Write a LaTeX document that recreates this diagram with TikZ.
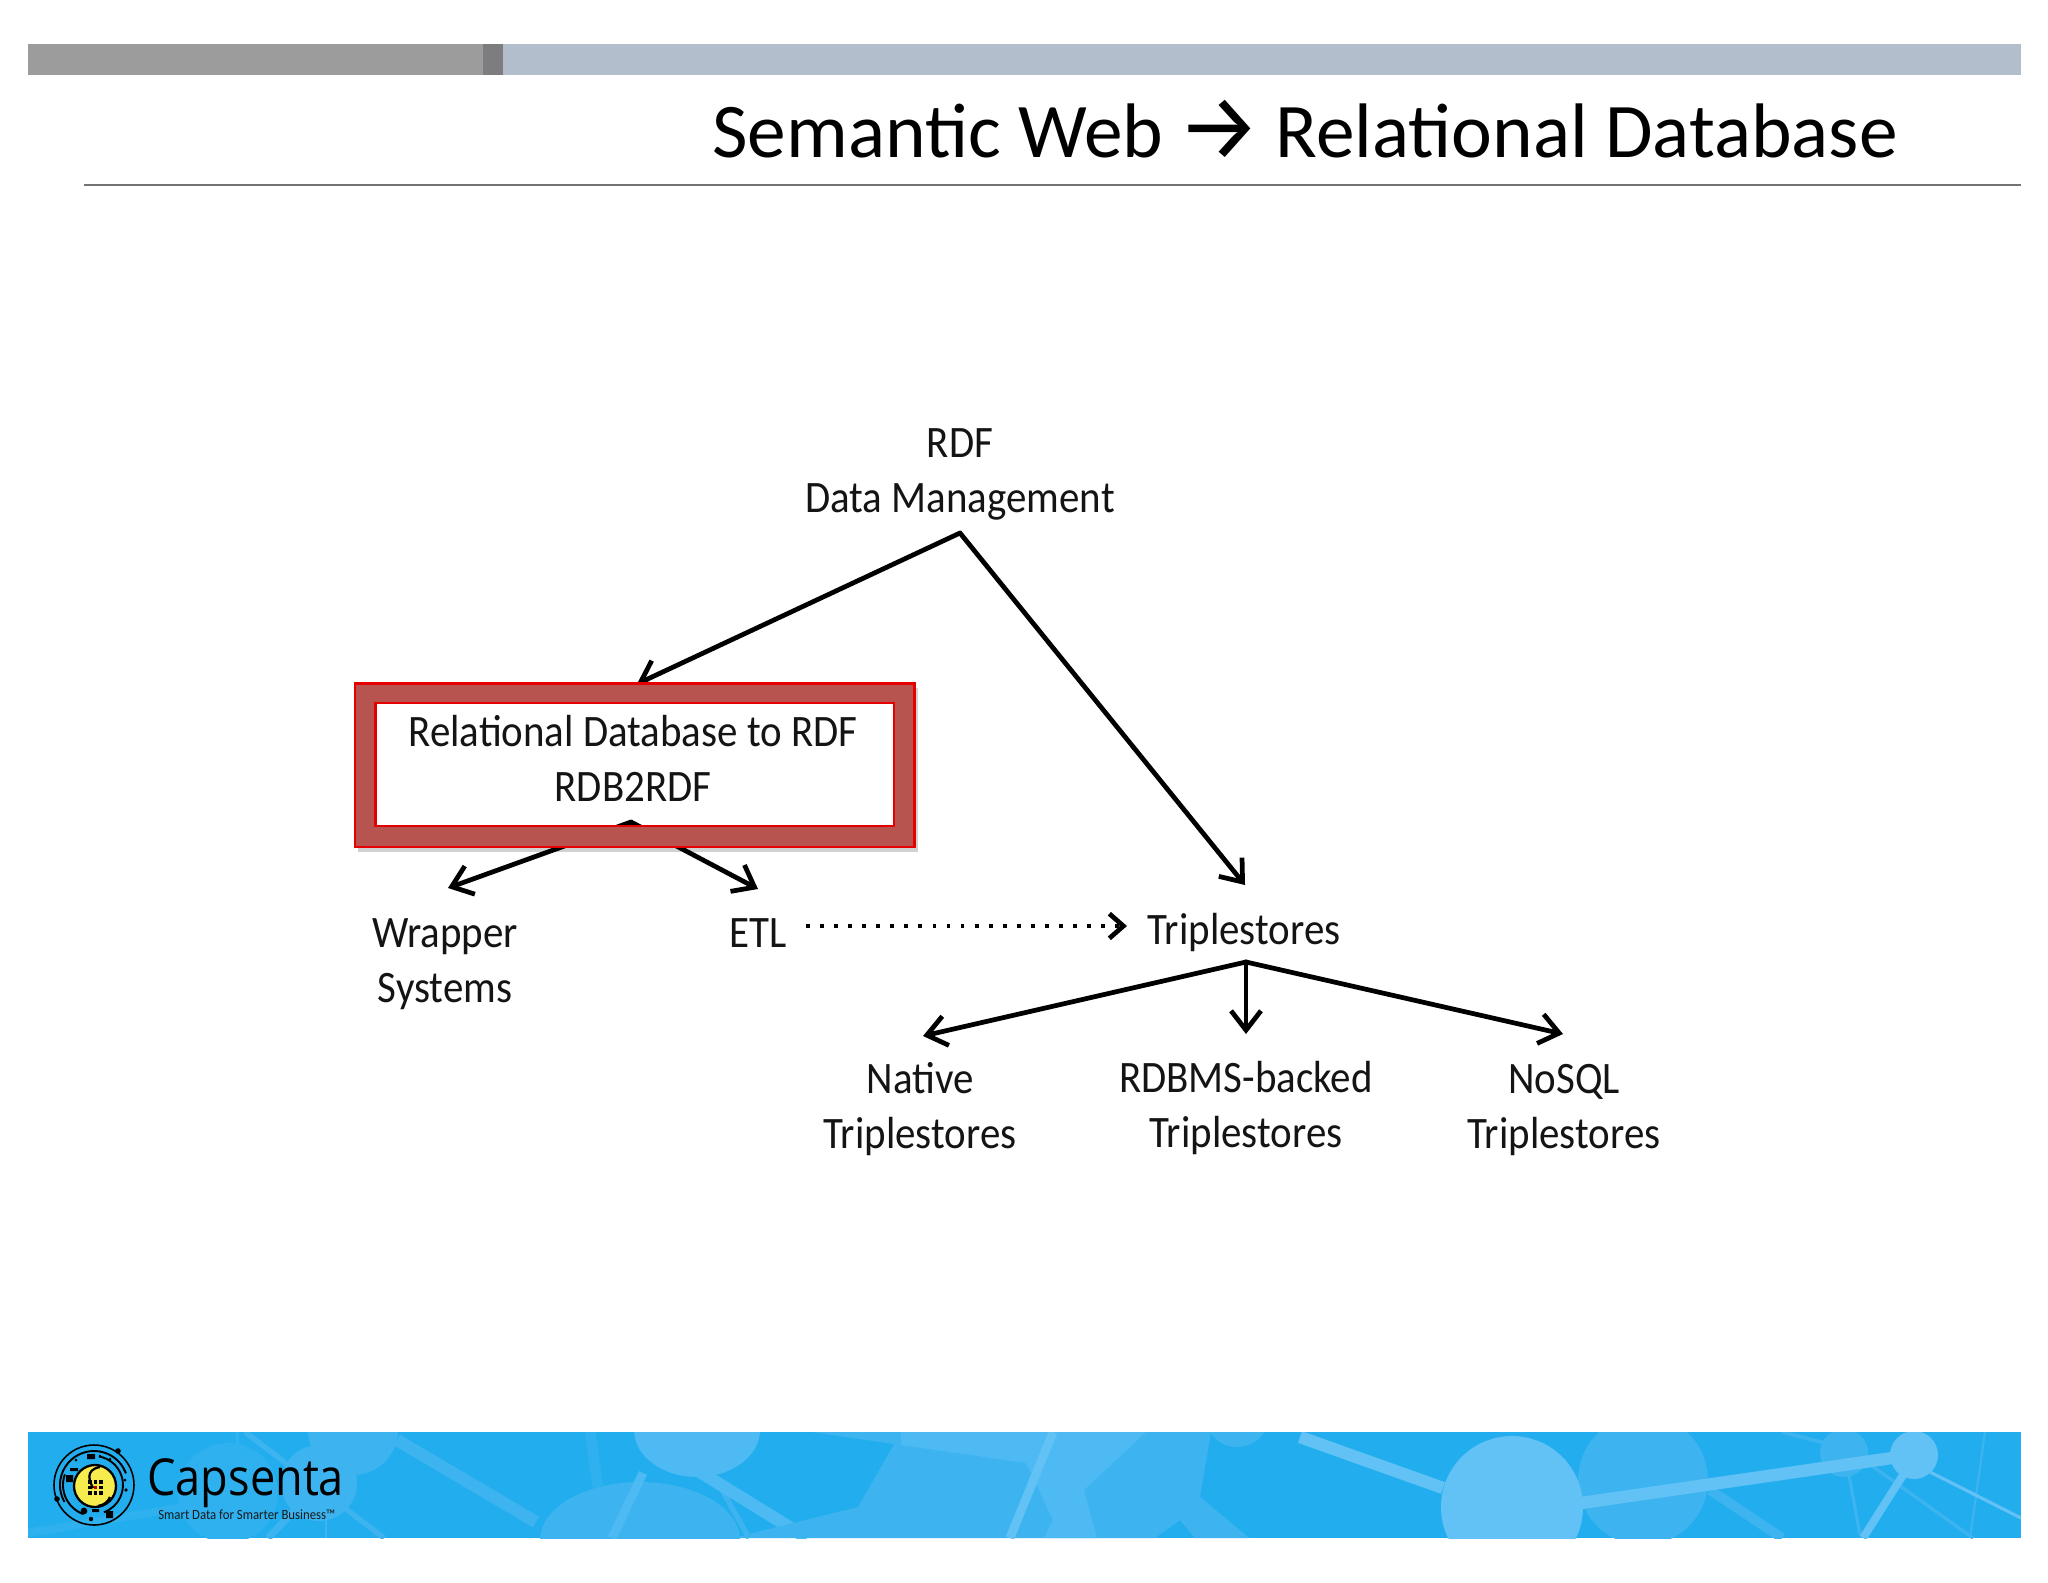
\documentclass[tikz,border=0pt]{standalone}
\usepackage{fontspec}
\setmainfont{Carlito}
\newfontfamily\diagfont[FakeStretch=0.91]{Carlito}
\newfontfamily\arrowfont{Fira Sans}
\newfontfamily\logofont[FakeStretch=0.885]{Open Sans}
\usetikzlibrary{arrows.meta,calc}
\definecolor{bandbase}{HTML}{22AEEE}
\definecolor{bandmid}{HTML}{3DB4F0}
\definecolor{bandlite}{HTML}{4DBAF3}
\definecolor{bandtop}{HTML}{62C2F5}
\definecolor{bandfaint}{HTML}{2FB1EF}
\definecolor{ringfill}{HTML}{B85450}
\tikzset{
  lab/.style={font=\diagfont\fontsize{25.6pt}{31.3pt}\selectfont, align=center, inner sep=0pt, text=black!92},
  arr/.style={line width=2.7pt, draw=black, -{Straight Barb[length=11pt,width=17pt,line width=2.7pt]}, line cap=round},
  dotarr/.style={line width=2.6pt, draw=black, dash pattern=on 2.2pt off 5.8pt, -{Straight Barb[length=8pt,width=14pt,line width=2.7pt]}},
}
\begin{document}
\begin{tikzpicture}[x=0.02cm,y=-0.02cm]
\useasboundingbox (0,0) rectangle (2048,1582);
\fill[white] (0,0) rectangle (2048,1582);
% top bar
\fill[fill=black!39] (28,44) rectangle (483,75);
\fill[fill=black!50!blue!2!gray] (483,44) rectangle (503,75);
\fill[fill={rgb,255:red,179;green,190;blue,204}] (503,44) rectangle (2021,75);
\draw[line width=1.3pt,draw=black!55] (84,185) -- (2021,185);
% title
\node[anchor=center,inner sep=0pt,font=\fontsize{44pt}{52pt}\selectfont,text=black] (title) at (1305,130)
  {Semantic Web \makebox[44pt][c]{\raisebox{-1pt}{\arrowfont\fontsize{53pt}{53pt}\selectfont→}} Relational Database};
% band
\begin{scope}
\clip (28,1432) rectangle (2021,1538);
\fill[bandbase] (28,1432) rectangle (2021,1538);
\fill[bandfaint] (228,1493) circle (50);
\fill[bandmid] (319,1483) circle (38);
\fill[bandmid] (353,1430) circle (45);
\draw[bandfaint,line width=4.5pt] (27,1533) -- (268,1493);
\draw[bandmid,line width=3pt] (245,1432) -- (384,1538);
\draw[bandfaint,line width=2pt] (237,1432) -- (241,1495);
\draw[bandmid,line width=4pt] (268,1538) -- (321,1483);
\draw[bandmid,line width=1.5pt] (326,1513) -- (326,1538);
\draw[bandmid,line width=7pt] (397,1440) -- (536,1522);
\fill[bandmid] (640,1540) ellipse (100 and 58);
\fill[bandlite] (697,1430) ellipse (63 and 47);
\draw[bandfaint,line width=6pt] (590,1432) -- (598,1487);
\draw[bandlite,line width=5pt] (643,1473) -- (612,1538);
\draw[bandmid,line width=3pt] (718,1483) -- (749,1538);
\draw[bandlite,line width=7pt] (700,1472) -- (807,1538);
\fill[bandmid] (901,1432) -- (1211,1432) -- (1200,1497) -- (1249,1538) -- (1195,1538) -- (1180,1520) -- (1155,1538) -- (733,1538) -- (858,1507) -- cycle;
\fill[bandmid] (812,1432) -- (901,1445) -- (912,1432) -- cycle;
\fill[bandlite] (901,1432) -- (1146,1432) -- (1084,1490) -- (1097,1538) -- (1044,1538) -- (1053,1520) -- (1026,1463) -- (901,1445) -- cycle;
\fill[bandmid] (1237,1415) circle (32);
\draw[bandtop,line width=5pt] (1053,1432) -- (1010,1538);
\draw[bandmid,line width=5.5pt] (1710,1490) -- (1782,1538);
\fill[bandmid] (1643,1480) circle (65);
\draw[bandmid,line width=2pt] (1782,1432) -- (1825,1443);
\fill[bandmid] (1844,1453) circle (24);
\draw[bandmid,line width=1.8pt] (1849,1475) -- (1860,1535);
\draw[bandmid,line width=1.8pt] (1868,1463) -- (1973,1538);
\draw[bandmid,line width=1.2pt] (1985,1432) -- (1970,1538);
\draw[bandtop,line width=7pt] (1300,1437) -- (1443,1488);
\draw[bandtop,line width=7pt] (1581,1503) -- (1892,1458);
\fill[bandtop] (1512,1507) circle (71);
\draw[bandtop,line width=4.5pt] (1903,1475) -- (1863,1538);
\draw[bandtop,line width=1.8pt] (1930,1472) -- (2021,1518);
\fill[bandtop] (1914,1455) circle (24);
\end{scope}
% logo
\begin{scope}[line width=0.9pt,draw=black]
\draw (94,1485) ellipse (40 and 40);
\draw[line width=1.1pt] (94,1485) ++(-20:34) arc (-20:-210:34);
\draw[line width=1.1pt] (94,1485) ++(70:29) arc (70:-80:29);
\draw[line width=1.1pt] (94,1485) ++(110:31) arc (110:200:31);
\fill[black] (118,1451) circle (2.8) (57,1499) circle (2.8) (84,1511) circle (3.4) (91,1519) circle (2.2) (126,1490) circle (1.8);
\fill[black] (106,1511) rectangle (113,1518) (66,1475) rectangle (73,1482) (87,1454) rectangle (95,1459) (92,1509) rectangle (99,1512);
\fill[black] (100,1456) circle (1.5) (110,1459) circle (1.5) (76,1460) circle (1.5) (125,1480) circle (1.5) (124,1470) circle (1.2) (70,1468) rectangle (78,1471);
\draw[fill={rgb,255:red,247;green,236;blue,78},line width=1.3pt] (95,1486) ellipse (21 and 21);
\draw[line width=1.3pt] (100,1467) .. controls (84,1470) and (90,1482) .. (93,1488);
\draw[line width=1.3pt] (110,1497) .. controls (108,1502) and (104,1505) .. (98,1506);
\foreach \i in {0,1,2}{\foreach \j in {0,1,2}{
  \fill[black] ({88+\i*5.5},{1480+\j*5.5}) rectangle +(3.5,3.5);}}
\fill[red!80!black] (93.5,1485.5) rectangle +(3.5,3.5);
\end{scope}
\node[anchor=base west,inner sep=0pt,font=\logofont\fontsize{29pt}{34pt}\selectfont,text=black] (capsenta) at (147,1495) {Capsenta};
\node[anchor=base west,inner sep=0pt,font=\diagfont\fontsize{8pt}{10pt}\selectfont,text=black!90] (tagline) at (158,1519) {Smart Data for Smarter Business™};
% diagram
\node[lab] (rdf) at (960,474) {RDF\\Data Management};
\coordinate (rdfapex) at (960,533);
\coordinate (rdbtop) at (637,684);
\coordinate (rdbfoot) at (631,822);
\node[lab] (wrap) at (445,964) {Wrapper\\Systems};
\coordinate (wraptip) at (448,888);
\node[lab] (etl) at (758,933) {ETL};
\coordinate (etltip) at (758,889);
\node[lab] (trip) at (1244,932) {Triplestores};
\coordinate (triptop) at (1245,885);
\coordinate (tripfoot) at (1246,962);
\coordinate (dotstart) at (806,926);
\coordinate (dotend) at (1127,926);
\node[lab] (native) at (920,1109) {Native\\Triplestores};
\coordinate (nativetip) at (923,1036);
\node[lab] (rdbms) at (1246,1108) {RDBMS-backed\\Triplestores};
\coordinate (rdbmstip) at (1246,1034);
\node[lab] (nosql) at (1564,1110) {NoSQL\\Triplestores};
\coordinate (nosqltip) at (1563,1034);
\draw[arr] (rdfapex) -- (triptop);
\draw[dotarr] (dotstart) -- (dotend);
\draw[arr] (tripfoot) -- (nativetip);
\draw[arr] (tripfoot) -- (rdbmstip);
\draw[arr] (tripfoot) -- (nosqltip);
% highlight ring
\fill[black!18] (358,688) rectangle (918,852);
\fill[white] (360,684) rectangle (910,846);
\draw[arr] (rdbfoot) -- (wraptip);
\draw[arr] (rdbfoot) -- (etltip);
\draw[arr] (rdfapex) -- (rdbtop);
\fill[ringfill,even odd rule,draw=red!90!black,line width=1.2pt] (355,683.5) rectangle (914.5,847) (375.5,703) rectangle (894,826);
\node[lab] (rdb) at (633,758.5) {Relational Database to RDF\\RDB2RDF};
\end{tikzpicture}
\end{document}
